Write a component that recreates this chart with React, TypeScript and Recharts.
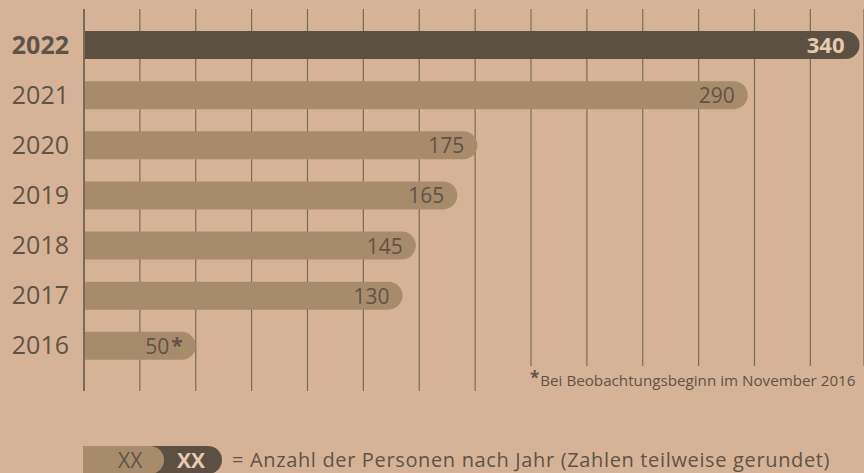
import React from "react";
import { BarChart, Bar, XAxis, YAxis, CartesianGrid, LabelList, Cell } from "recharts";

const years = ["2022", "2021", "2020", "2019", "2018", "2017", "2016"];
const barValues = [347, 297, 176, 167, 148.5, 142.5, 50];
const barLabels = ["340", "290", "175", "165", "145", "130", "50*"];
const gridTicks = [0, 25, 50, 75, 100, 125, 150, 175, 200, 225, 250, 275, 300, 325];
const highlightYear = "2022";
const footnote = "Bei Beobachtungsbeginn im November 2016";
const legendText = "= Anzahl der Personen nach Jahr (Zahlen teilweise gerundet)";

const BG = "#d6b397";
const DARK = "#5c5042";
const LIGHT = "#a88b6b";
const GRID = "#7a6a58";
const TEXT = "#5e5446";
const LABEL_LIGHT = "#e4cbad";
const FONT = "'Open Sans', sans-serif";

const data = years.map((year, i) => ({ year, value: barValues[i], label: barLabels[i] }));

const YearTick = (props: any) => {
  const { x, y, payload } = props;
  const bold = payload.value === highlightYear;
  return (
    <text x={x} y={y + 8.5} textAnchor="end" fontFamily={FONT} fontSize={25} fontWeight={bold ? 700 : 400} fill={TEXT}>
      {payload.value}
    </text>
  );
};

const BarLabel = (props: any) => {
  const vb = props.viewBox || props;
  const { x, y, width, height } = vb;
  const value: string = String(props.value);
  const idx = props.index;
  const bold = years[idx] === highlightYear;
  const star = value.endsWith("*");
  const main = star ? value.slice(0, -1) : value;
  return (
    <text
      x={x + width - (bold ? 15 : 13)}
      y={y + height / 2 + 8}
      textAnchor="end"
      fontFamily={FONT}
      fontSize={bold ? 22 : 21}
      fontWeight={bold ? 700 : 400}
      fill={bold ? LABEL_LIGHT : TEXT}
    >
      {main}
      {star && (
        <tspan fontWeight={700} dx={2} dy={-1}>*</tspan>
      )}
    </text>
  );
};

export default function App() {
  return (
    <div
      style={{
        position: "absolute",
        left: 0,
        top: 0,
        width: 864,
        height: 473,
        background: BG,
        overflow: "hidden",
        fontFamily: FONT,
      }}
    >
      <BarChart
        width={864}
        height={473}
        data={data}
        layout="vertical"
        margin={{ top: 9, right: 0, bottom: 82, left: 0 }}
      >
        <CartesianGrid horizontal={false} vertical stroke={GRID} strokeWidth={1.2} />
        <XAxis type="number" hide domain={[0, 349]} allowDataOverflow ticks={gridTicks} />
        <YAxis
          type="category"
          dataKey="year"
          width={84}
          axisLine={{ stroke: GRID, strokeWidth: 2 }}
          tickLine={false}
          tickSize={0}
          tickMargin={15}
          tick={<YearTick />}
          padding={{ top: 11, bottom: 20 }}
        />
        <Bar dataKey="value" barSize={28} radius={[0, 14, 14, 0]} isAnimationActive={false}>
          {data.map((d) => (
            <Cell key={d.year} fill={d.year === highlightYear ? DARK : LIGHT} />
          ))}
          <LabelList dataKey="label" content={<BarLabel />} />
        </Bar>
      </BarChart>

      <div
        style={{
          position: "absolute",
          left: 525,
          top: 366,
          width: 339,
          height: 30,
          background: BG,
          color: TEXT,
          whiteSpace: "nowrap",
        }}
      >
        <div style={{ position: "absolute", left: 5, top: 4, lineHeight: "20px" }}>
          <span style={{ fontWeight: 700, fontSize: 17, position: "relative", top: -2 }}>*</span>
          <span style={{ fontSize: 15.2, marginLeft: 1 }}>{footnote}</span>
        </div>
      </div>

      <div style={{ position: "absolute", left: 83, top: 446, height: 28, width: 139 }}>
        <div
          style={{
            position: "absolute",
            left: 0,
            top: 0,
            width: 139,
            height: 28,
            background: DARK,
            borderRadius: "0 14px 14px 0",
          }}
        />
        <div
          style={{
            position: "absolute",
            left: 0,
            top: 0,
            width: 81,
            height: 28,
            background: LIGHT,
            borderRadius: "0 14px 14px 0",
          }}
        />
        <div style={{ position: "absolute", left: 35, top: 0, lineHeight: "28px", fontSize: 21, color: TEXT }}>XX</div>
        <div style={{ position: "absolute", left: 94, top: 0, lineHeight: "28px", fontSize: 21, fontWeight: 700, color: LABEL_LIGHT }}>XX</div>
      </div>
      <div
        style={{
          position: "absolute",
          left: 232,
          top: 446,
          lineHeight: "28px",
          fontSize: 20,
          letterSpacing: 0.65,
          color: TEXT,
          whiteSpace: "nowrap",
        }}
      >
        {legendText}
      </div>
    </div>
  );
}
